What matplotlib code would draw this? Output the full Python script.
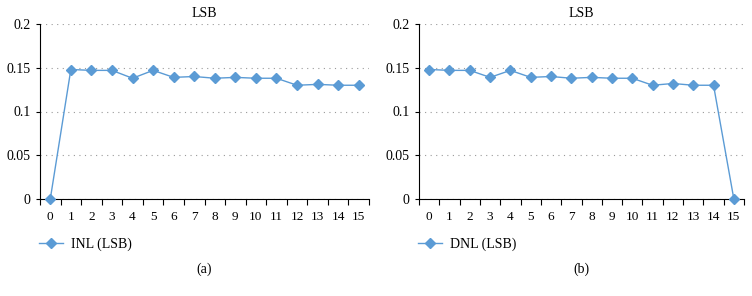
import matplotlib.pyplot as plt
import matplotlib

matplotlib.rcParams["font.family"] = ["Liberation Serif", "DejaVu Serif"]

# ---- 資料 ----
codes = list(range(16))
inl = [0, 0.148, 0.147, 0.147, 0.138, 0.147, 0.139, 0.140, 0.138,
       0.139, 0.138, 0.138, 0.130, 0.131, 0.130, 0.130]
dnl = [0.148, 0.147, 0.147, 0.139, 0.147, 0.139, 0.140, 0.138, 0.139,
       0.138, 0.138, 0.130, 0.132, 0.130, 0.130, 0]
yticks = [0, 0.05, 0.1, 0.15, 0.2]
ytick_labels = ["0", "0.05", "0.1", "0.15", "0.2"]

color = "#5B9BD5"
W, H = 752, 296
fig = plt.figure(figsize=(W / 100, H / 100), dpi=100)


def panel(x0, x1, vals, label, cap):
    ax = fig.add_axes([x0 / W, (H - 199) / H, (x1 - x0) / W, (199 - 24) / H])
    ax.plot(codes, vals, color=color, lw=1, marker="D", ms=5.5,
            mec=color, label=label, clip_on=False, zorder=3)
    ax.set_xlim(-0.5, 15.5)
    ax.set_ylim(0, 0.2)
    ax.set_yticks(yticks)
    ax.set_yticklabels(ytick_labels, fontsize=10)
    ax.set_xticks(codes)
    ax.set_xticklabels([str(c) for c in codes], fontsize=9.5)
    ax.set_xticks([c - 0.5 for c in codes] + [15.5], minor=True)
    ax.tick_params(axis="x", which="major", length=0, pad=9)
    ax.tick_params(axis="x", which="minor", length=4, width=0.8, direction="out")
    ax.tick_params(axis="y", length=3, width=0.8, pad=4)
    for s in ["top", "right"]:
        ax.spines[s].set_visible(False)
    ax.spines["left"].set_linewidth(0.8)
    ax.spines["bottom"].set_linewidth(0.8)
    ax.grid(axis="y", linestyle=(0, (1, 4)), color="#999999", lw=0.8)
    ax.set_axisbelow(True)
    ax.set_title("LSB", fontsize=10, pad=5)
    ax.legend(loc="upper left", bbox_to_anchor=(-0.02, -0.19), frameon=False,
              fontsize=10, handlelength=1.7, handletextpad=0.6, borderaxespad=0)
    ax.text(0.5, -0.365, cap, transform=ax.transAxes, ha="center", va="top",
            fontsize=10)
    return ax


panel(40, 369, inl, "INL (LSB)", "(a)")
panel(419, 744, dnl, "DNL (LSB)", "(b)")

plt.savefig("out.png", dpi=100)
